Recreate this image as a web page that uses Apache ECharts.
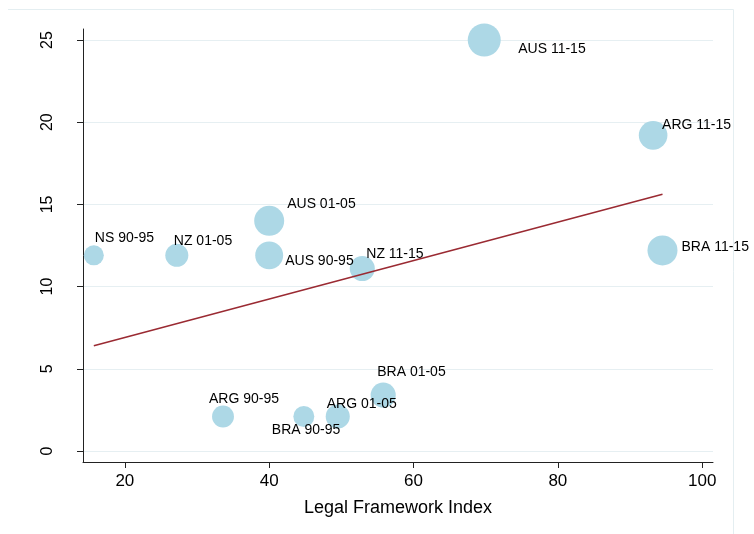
<!DOCTYPE html>
<html>
<head>
<meta charset="utf-8">
<script src="https://cdn.jsdelivr.net/npm/echarts@6/dist/echarts.min.js"></script>
<style>html,body{margin:0;padding:0;background:#fff;}#c{width:754px;height:534px;}</style>
</head>
<body>
<div id="c"></div>
<script>
// ---- data ----
var labels = ["NS 90-95","NZ 01-05","AUS 01-05","AUS 90-95","NZ 11-15","ARG 90-95","BRA 90-95","ARG 01-05","BRA 01-05","AUS 11-15","ARG 11-15","BRA 11-15"];
var legalIndex = [15.7, 27.2, 40.0, 40.0, 52.9, 33.6, 44.8, 49.5, 55.8, 69.8, 93.2, 94.5];
var yValues   = [11.9, 11.9, 14.0, 11.9, 11.1, 2.1, 2.1, 2.1, 3.4, 25.0, 19.2, 12.2];
var weights   = [4.0, 5.3, 9.0, 7.8, 6.3, 4.8, 4.4, 5.8, 6.3, 10.9, 8.2, 9.0];
var xTicks = [20, 40, 60, 80, 100];
var yTicks = [0, 5, 10, 15, 20, 25];

// ---- label placement (style, px offsets from marker centre) ----
var labelOffsets = {
  "NS 90-95": [1, -17], "NZ 01-05": [-3, -14], "AUS 01-05": [18, -17], "AUS 90-95": [16, 6],
  "NZ 11-15": [4, -14], "ARG 90-95": [-14, -17], "BRA 90-95": [-32, 14], "ARG 01-05": [-11, -12],
  "BRA 01-05": [-6, -23], "AUS 11-15": [34, 9], "ARG 11-15": [9, -10], "BRA 11-15": [19, -3]
};

// OLS fit
var n = legalIndex.length, mx = 0, my = 0;
for (var i = 0; i < n; i++) { mx += legalIndex[i]; my += yValues[i]; }
mx /= n; my /= n;
var sxy = 0, sxx = 0;
for (var i = 0; i < n; i++) { sxy += (legalIndex[i]-mx)*(yValues[i]-my); sxx += (legalIndex[i]-mx)*(legalIndex[i]-mx); }
var slope = sxy / sxx, icpt = my - slope*mx;
var xmin = Math.min.apply(null, legalIndex), xmax = Math.max.apply(null, legalIndex);
var fitData = [[xmin, icpt + slope*xmin], [xmax, icpt + slope*xmax]];

var scatterData = labels.map(function (l, i) {
  return {
    name: l,
    value: [legalIndex[i], yValues[i], weights[i]],
    label: { offset: labelOffsets[l] }
  };
});

var chart = echarts.init(document.getElementById('c'), null, {renderer: 'canvas'});
chart.setOption({
  animation: false,
  backgroundColor: '#ffffff',
  textStyle: { fontFamily: 'Liberation Sans, Arial, sans-serif' },
  graphic: [
    { type: 'line', shape: { x1: 8, y1: 9.5, x2: 733.5, y2: 9.5 }, style: { stroke: '#e4eef1', lineWidth: 1 }, silent: true },
    { type: 'line', shape: { x1: 733.5, y1: 9.5, x2: 733.5, y2: 534 }, style: { stroke: '#e4eef1', lineWidth: 1 }, silent: true }
  ],
  grid: { left: 83, right: 41, top: 29, bottom: 72, containLabel: false },
  xAxis: {
    type: 'value', min: 14.2, max: 101.5,
    name: 'Legal Framework Index', nameLocation: 'middle', nameGap: 37,
    nameTextStyle: { fontSize: 18, color: '#000' },
    axisLine: { show: true, onZero: false, lineStyle: { color: '#222', width: 1 } },
    axisTick: { show: true, length: 6, customValues: xTicks, lineStyle: { color: '#222' } },
    axisLabel: { customValues: xTicks, fontSize: 17, color: '#000', margin: 11 },
    splitLine: { show: false }
  },
  yAxis: {
    type: 'value', min: -0.67, max: 25.67,
    axisLine: { show: true, onZero: false, lineStyle: { color: '#222', width: 1 } },
    axisTick: { show: true, length: 6, customValues: yTicks, lineStyle: { color: '#222' } },
    axisLabel: { customValues: yTicks, fontSize: 16, color: '#000', rotate: 90, margin: 27 },
    splitLine: { show: true, lineStyle: { color: '#e6eff2', width: 1 } }
  },
  series: [
    {
      type: 'scatter',
      data: scatterData,
      symbol: 'circle',
      symbolSize: function (v) { return 10 * Math.sqrt(v[2]); },
      itemStyle: { color: '#add8e6', opacity: 1 },
      label: {
        show: true, position: 'inside', align: 'left', verticalAlign: 'middle',
        formatter: function (p) { return p.name; },
        fontSize: 14, color: '#000'
      },
      z: 2
    },
    {
      type: 'line',
      data: fitData,
      showSymbol: false, symbol: 'none',
      lineStyle: { color: '#9a2a32', width: 1.5 },
      z: 3
    }
  ]
});
</script>
</body>
</html>
